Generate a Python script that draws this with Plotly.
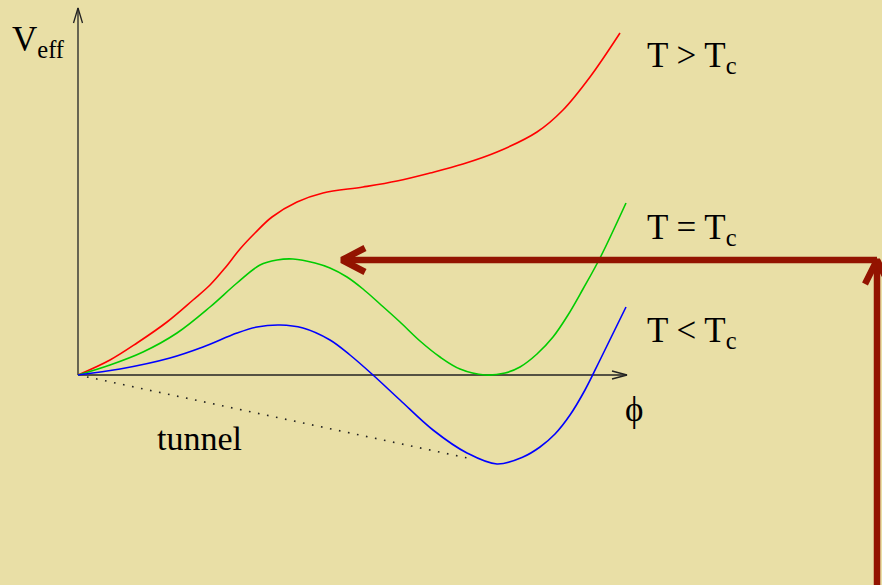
import plotly.graph_objects as go

# Effective potential V_eff(phi) at three temperatures (1 unit = 100 px on screen)
phi_above = [0, 0.32, 0.59, 0.89, 1.15, 1.32, 1.47, 1.62, 1.77, 1.94, 2.19, 2.45, 2.85,
             3.19, 3.52, 3.85, 4.19, 4.59, 4.85, 5.12, 5.42]
v_above = [0, 0.15, 0.32, 0.53, 0.75, 0.90, 1.07, 1.26, 1.42, 1.58, 1.73, 1.82, 1.88,
           1.94, 2.02, 2.11, 2.23, 2.43, 2.65, 2.98, 3.42]

phi_crit = [0, 0.32, 0.65, 0.99, 1.32, 1.59, 1.82, 1.99, 2.15, 2.37, 2.52, 2.69, 2.85,
            3.02, 3.22, 3.42, 3.62, 3.82, 4.07, 4.27, 4.42, 4.59, 4.75, 4.90, 5.05,
            5.22, 5.48]
v_crit = [0, 0.10, 0.23, 0.42, 0.68, 0.92, 1.10, 1.15, 1.16, 1.12, 1.07, 0.98, 0.86,
          0.71, 0.53, 0.34, 0.18, 0.06, 0, 0.02, 0.08, 0.21, 0.38, 0.60, 0.86,
          1.17, 1.72]

phi_below = [0, 0.42, 0.92, 1.25, 1.59, 1.79, 2.02, 2.25, 2.52, 2.72, 2.95, 3.22, 3.55,
             3.89, 4.19, 4.45, 4.62, 4.77, 4.92, 5.07, 5.22, 5.48]
v_below = [0, 0.06, 0.17, 0.28, 0.42, 0.48, 0.50, 0.47, 0.35, 0.20, 0, -0.25, -0.55,
           -0.78, -0.89, -0.82, -0.72, -0.59, -0.40, -0.15, 0.15, 0.68]

# Tunnelling path from the false vacuum towards the true minimum
phi_tunnel = [0, 3.94]
v_tunnel = [0, -0.84]

curve_labels = ["T &gt; T<sub>c</sub>", "T = T<sub>c</sub>", "T &lt; T<sub>c</sub>"]

BG = "#E9DFA6"
AXIS = "#222222"
ARROW = "#931300"
PX = 0.01  # one screen pixel in data units

X_RANGE = [-0.78, 8.04]
Y_RANGE = [-2.10, 3.75]

fig = go.Figure()


def seg(xs, ys, color, width, dash="solid", shape="linear"):
    fig.add_trace(go.Scatter(x=xs, y=ys, mode="lines", hoverinfo="skip",
                             line=dict(color=color, width=width, dash=dash, shape=shape,
                                       smoothing=1.0 if shape == "spline" else None)))


# axes with open arrowheads
v_top = 3.67
phi_end = 5.49
seg([0, 0], [0, v_top], AXIS, 1.3)
seg([-4.5 * PX, 0, 4.5 * PX], [v_top - 15 * PX, v_top, v_top - 15 * PX], AXIS, 1.3)
seg([0, phi_end], [0, 0], AXIS, 1.3)
seg([phi_end - 15 * PX, phi_end, phi_end - 15 * PX], [4 * PX, 0, -4 * PX], AXIS, 1.3)

# tunnelling path
seg(phi_tunnel, v_tunnel, "#222222", 1.6, dash="1.6px,7.6px")

# potential curves
seg(phi_above, v_above, "#FF0000", 1.6, shape="spline")
seg(phi_crit, v_crit, "#00CC00", 1.6, shape="spline")
seg(phi_below, v_below, "#0000FF", 1.6, shape="spline")

# thick pointer arrow coming in from the right edge
arrow_y = 1.15
arrow_tip = 2.64
corner_x = 7.99
seg([corner_x, corner_x], [Y_RANGE[0], arrow_y], ARROW, 6.5)
seg([corner_x - 12 * PX, corner_x, corner_x + 12 * PX],
    [arrow_y - 24 * PX, arrow_y, arrow_y - 24 * PX], ARROW, 6.5)
seg([corner_x, arrow_tip], [arrow_y, arrow_y], ARROW, 6.5)
seg([arrow_tip + 23 * PX, arrow_tip, arrow_tip + 23 * PX],
    [arrow_y + 12 * PX, arrow_y, arrow_y - 12 * PX], ARROW, 6.5)


def px_x(p):
    return (p - 78) * PX


def px_y(p):
    return (375 - p) * PX


def label(text, left, top, size):
    fig.add_annotation(x=px_x(left), y=px_y(top), text=text, showarrow=False,
                       xanchor="left", yanchor="top", borderpad=0, borderwidth=0,
                       font=dict(family="Liberation Serif", size=size, color="black"))


label("V<sub>eff</sub>", 12, 20, 35)
label(curve_labels[0], 647, 36, 35)
label(curve_labels[1], 647, 208, 35)
label(curve_labels[2], 647, 311, 35)
label("\u03d5", 625, 390, 35)
label("tunnel", 157, 420, 34)

fig.update_layout(
    width=882, height=585, autosize=False,
    margin=dict(l=0, r=0, t=0, b=0, pad=0),
    paper_bgcolor=BG, plot_bgcolor=BG,
    showlegend=False,
    xaxis=dict(range=X_RANGE, visible=False, fixedrange=True),
    yaxis=dict(range=Y_RANGE, visible=False, fixedrange=True),
)

fig.write_html("out.html")
